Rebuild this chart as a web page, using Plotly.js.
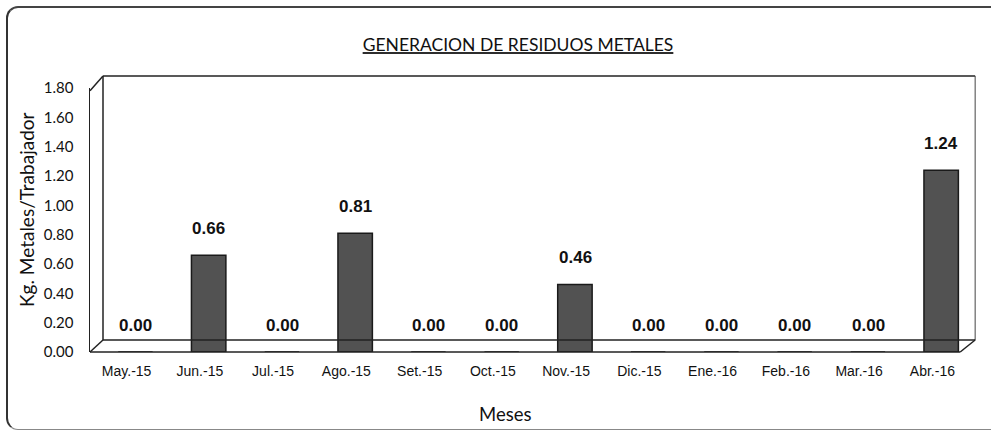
<!DOCTYPE html>
<html>
<head>
<meta charset="utf-8">
<script src="https://cdn.plot.ly/plotly-3.0.1.min.js"></script>
<style>
  html, body { margin: 0; padding: 0; background: #fff; overflow: hidden; width: 993px; height: 436px; }
  #frame { position: absolute; left: 6px; top: 6px; width: 985px; height: 424px; box-sizing: border-box;
           border-left: 2px solid #333; border-top: 2px solid #444; border-bottom: 1.5px solid #888;
           border-right: 0; border-radius: 12px 0 0 12px; }
  #chart { position: absolute; left: 0; top: 0; width: 993px; height: 436px; }
</style>
</head>
<body>
<div id="frame"></div>
<div id="chart"></div>
<script>
const categories = ["May.-15","Jun.-15","Jul.-15","Ago.-15","Set.-15","Oct.-15","Nov.-15","Dic.-15","Ene.-16","Feb.-16","Mar.-16","Abr.-16"];
const values = [0.00, 0.66, 0.00, 0.81, 0.00, 0.00, 0.46, 0.00, 0.00, 0.00, 0.00, 1.24];
const yTicks = [0, 0.2, 0.4, 0.6, 0.8, 1.0, 1.2, 1.4, 1.6, 1.8];
const titleText = "GENERACION DE RESIDUOS METALES";
const yTitle = "Kg. Metales/Trabajador";
const xTitle = "Meses";

const barWidth = 0.47, barShift = 0.12;

const trace = {
  type: 'bar',
  x: categories,
  y: values,
  width: barWidth,
  offset: -barWidth / 2 + barShift,
  marker: { color: '#525252', line: { color: '#1a1a1a', width: 1.5 } },
  hoverinfo: 'skip'
};

const annotations = categories.map((c, i) => ({
  x: c, y: values[i], xref: 'x', yref: 'y',
  text: values[i].toFixed(2), showarrow: false,
  xshift: 9, yanchor: 'middle', yshift: 27,
  font: { family: '"Liberation Sans", Arial, sans-serif', size: 17, color: '#111', weight: 'bold' }
}));

const ax = 13 / 879, ay = 12 / 264;
const lineStyle = { color: '#222', width: 1.5 };
const shapes = [
  { type: 'line', xref: 'paper', yref: 'paper', x0: ax, y0: 1 + ay, x1: 1 + 0.007, y1: 1 + ay, line: lineStyle },
  { type: 'line', xref: 'paper', yref: 'paper', x0: ax, y0: ay, x1: ax, y1: 1 + ay, line: lineStyle },
  { type: 'line', xref: 'paper', yref: 'paper', x0: 1 + 0.007, y0: ay, x1: 1 + 0.007, y1: 1 + ay, line: { color: '#444', width: 1 } },
  { type: 'line', xref: 'paper', yref: 'paper', x0: 0, y0: 1 - 0.01, x1: ax, y1: 1 + ay, line: lineStyle },
  { type: 'line', xref: 'paper', yref: 'paper', x0: ax, y0: ay, x1: 1 + 0.007, y1: ay, line: lineStyle },
  { type: 'line', xref: 'paper', yref: 'paper', x0: 0, y0: 0, x1: ax, y1: ay, line: lineStyle },
  { type: 'line', xref: 'paper', yref: 'paper', x0: 0, y0: 0, x1: 1 - 0.01, y1: 0, line: lineStyle },
  { type: 'line', xref: 'paper', yref: 'paper', x0: 1 - 0.01, y0: 0, x1: 1 + 0.007, y1: ay, line: lineStyle }
];

const layout = {
  width: 993, height: 436,
  margin: { l: 90, r: 24, t: 88, b: 84 },
  paper_bgcolor: 'rgba(0,0,0,0)',
  plot_bgcolor: 'rgba(0,0,0,0)',
  showlegend: false,
  title: {
    text: '<u>' + titleText + '</u>',
    x: 518 / 993, xref: 'container', xanchor: 'center',
    y: 1 - 45 / 436, yref: 'container', yanchor: 'middle',
    font: { family: 'Lato, "Open Sans", sans-serif', size: 17.5, color: '#111' }
  },
  xaxis: {
    type: 'category',
    showline: false, showgrid: false, zeroline: false,
    ticks: 'outside', ticklen: 6, tickcolor: 'rgba(0,0,0,0)',
    tickfont: { family: '"Liberation Sans", Arial, sans-serif', size: 14, color: '#111' },
    fixedrange: true
  },
  yaxis: {
    range: [0, 1.8],
    tickvals: yTicks, tickformat: '.2f',
    showline: true, linecolor: '#222', linewidth: 1.5,
    showgrid: false, zeroline: false,
    ticks: 'outside', ticklen: 12, tickcolor: 'rgba(0,0,0,0)',
    tickfont: { family: 'Lato, "Open Sans", sans-serif', size: 15, color: '#111' },
    fixedrange: true
  },
  annotations: annotations.concat([
    { xref: 'paper', yref: 'paper', x: (505 - 90) / 879, y: -(414 - 352) / 264,
      text: xTitle, showarrow: false, xanchor: 'center', yanchor: 'middle',
      font: { family: 'Lato, "Open Sans", sans-serif', size: 18.5, color: '#111' } },
    { xref: 'paper', yref: 'paper', x: -(90 - 26) / 879, y: (352 - 210) / 264,
      text: yTitle, showarrow: false, textangle: -90, xanchor: 'center', yanchor: 'middle',
      font: { family: 'Lato, "Open Sans", sans-serif', size: 19, color: '#111' } }
  ]),
  shapes: shapes
};

Plotly.newPlot('chart', [trace], layout, { displayModeBar: false, staticPlot: true });
</script>
</body>
</html>
